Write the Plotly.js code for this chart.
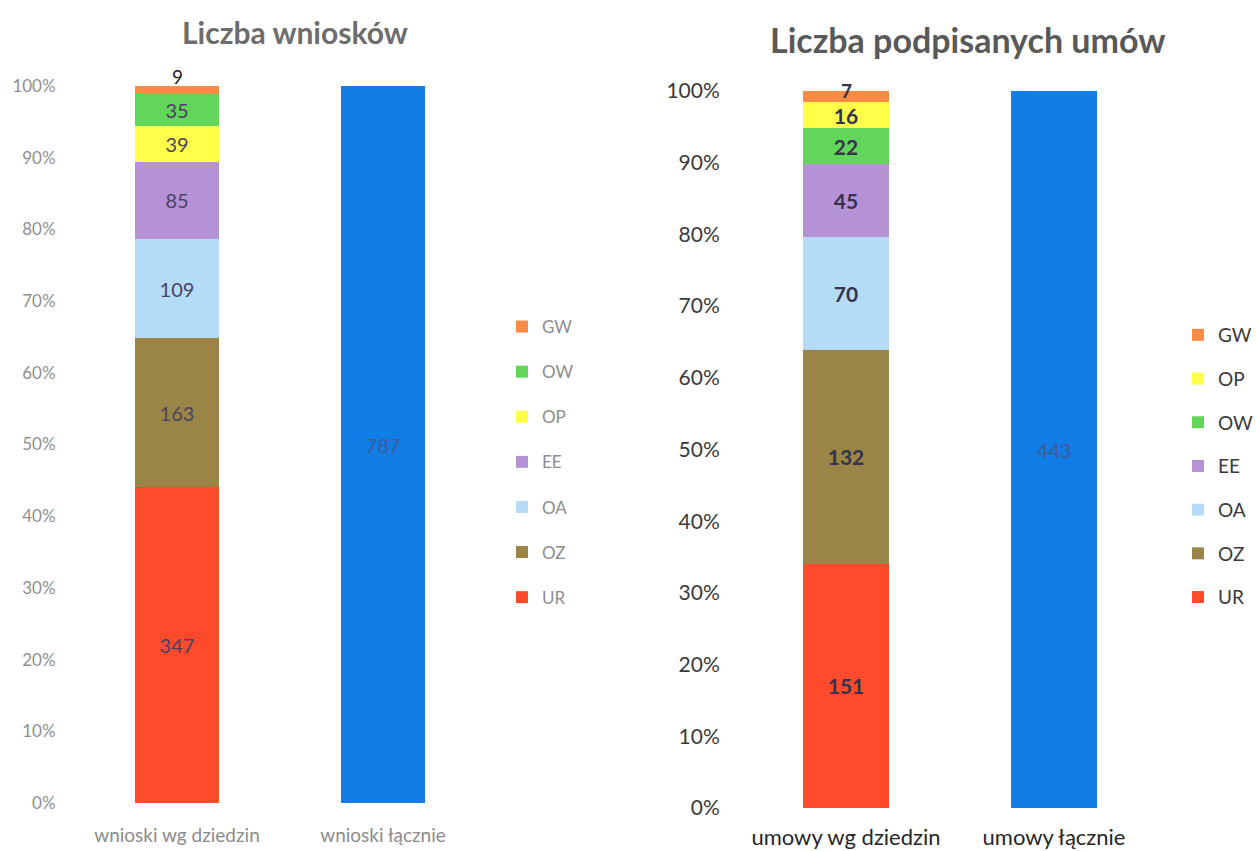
<!DOCTYPE html>
<html><head><meta charset="utf-8">
<script src="https://cdn.plot.ly/plotly-3.0.1.min.js"></script>
<style>html,body{margin:0;padding:0;background:#fff}#chart{width:1256px;height:851px}</style>
</head><body><div id="chart"></div>
<script>
// Left chart: Liczba wniosków
const leftCats = ["wnioski wg dziedzin", "wnioski łącznie"];
const leftSeries = ["UR", "OZ", "OA", "EE", "OP", "OW", "GW"];
const leftValues = [347, 163, 109, 85, 39, 35, 9];
const leftTotal = 787;

// Right chart: Liczba podpisanych umów
const rightCats = ["umowy wg dziedzin", "umowy łącznie"];
const rightSeries = ["UR", "OZ", "OA", "EE", "OW", "OP", "GW"];
const rightValues = [151, 132, 70, 45, 22, 16, 7];
const rightTotal = 443;

const colors = {UR:"#ff4b2b", OZ:"#9a8446", OA:"#b5dcf7", EE:"#b592d6", OP:"#ffff4a", OW:"#62d65a", GW:"#f98b45"};
const totalColor = "#127de6";
const font = "Lato, 'Open Sans', sans-serif";

const sum = a => a.reduce((p, c) => p + c, 0);
const traces = [];
const annotations = [];

function addStack(cats, series, values, total, axX, axY, legendId, prefix, labelFont, totalFont) {
  const n = series.length;
  series.forEach((s, i) => {
    const top = i === n - 1;
    traces.push({type:"bar", name:s, x:[cats[0]], y:[values[i]], text:[String(values[i])],
      textposition: top ? "none" : "inside", insidetextanchor:"middle", constraintext:"none", textangle:0,
      textfont:labelFont,
      marker:{color:colors[s]}, xaxis:axX, yaxis:axY, legend:legendId, legendgroup:prefix+s, legendrank:(n - i) * 10,
      hoverinfo:"name+text"});
  });
  traces.push({type:"bar", name:"łącznie", x:[cats[1]], y:[total], text:[String(total)],
    textposition:"inside", insidetextanchor:"middle", constraintext:"none", textangle:0,
    textfont:totalFont,
    marker:{color:totalColor}, xaxis:axX, yaxis:axY, showlegend:false});
}

addStack(leftCats, leftSeries, leftValues, leftTotal, "x", "y", "legend", "L",
  {family:font, size:20, color:"#4a4262"}, {family:font, size:20, color:"#3d5a99"});
addStack(rightCats, rightSeries, rightValues, rightTotal, "x2", "y2", "legend2", "R",
  {family:font, size:21, color:"#33334d", weight:"bold"}, {family:font, size:20, color:"#3d5a99"});

// labels of the thin top segments (GW), placed at the top of each stack
annotations.push({text:String(leftValues[leftValues.length-1]), xref:"x", yref:"y", x:leftCats[0],
  y:100 * sum(leftValues) / sum(leftValues), yanchor:"bottom", yshift:-4, showarrow:false,
  font:{family:font, size:19, color:"#222"}});
annotations.push({text:"<b>" + rightValues[rightValues.length-1] + "</b>", xref:"x2", yref:"y2", x:rightCats[0],
  y:100 * sum(rightValues) / sum(rightValues), yanchor:"middle", yshift:1, showarrow:false,
  font:{family:font, size:19, color:"#33334d"}});

const W = 1256, H = 851;
annotations.push({text:"<b>Liczba wniosków</b>", xref:"paper", yref:"paper", x:295/W, y:(H-32)/H, xanchor:"center", yanchor:"middle", showarrow:false,
  font:{size:30, color:"#6d6d6d"}});
annotations.push({text:"<b>Liczba podpisanych umów</b>", xref:"paper", yref:"paper", x:968/W, y:(H-40)/H, xanchor:"center", yanchor:"middle", showarrow:false,
  font:{size:34, color:"#595959"}});

const yaxisCommon = {range:[0,100], dtick:10, ticksuffix:"%", showgrid:false, zeroline:false, showline:false,
  ticks:"outside", tickcolor:"rgba(0,0,0,0)", fixedrange:true};
const layout = {
  width:W, height:H, margin:{l:0,r:0,t:0,b:0, autoexpand:false}, paper_bgcolor:"#fff", plot_bgcolor:"#fff",
  barmode:"stack", barnorm:"percent", bargap:0.59, showlegend:true,
  font:{family:font},
  xaxis:{domain:[74/W, 486/W], anchor:"y", showgrid:false, showline:false, zeroline:false, ticks:"outside", ticklen:15, tickcolor:"rgba(0,0,0,0)",
    tickfont:{size:19, color:"#8c8c8c"}},
  yaxis:Object.assign({}, yaxisCommon, {domain:[(H-803)/H, (H-86)/H], anchor:"x", ticklen:14, tickfont:{size:17, color:"#8f8f8f"}}),
  xaxis2:{domain:[742/W, 1158/W], anchor:"y2", showgrid:false, showline:false, zeroline:false, ticks:"outside", ticklen:10, tickcolor:"rgba(0,0,0,0)",
    tickfont:{size:22, color:"#262626"}},
  yaxis2:Object.assign({}, yaxisCommon, {domain:[(H-808)/H, (H-91)/H], anchor:"x2", ticklen:17, tickfont:{size:21, color:"#3a3a3a"}}),
  legend:{x:502/W, y:(H-309)/H, xanchor:"left", yanchor:"top", traceorder:"grouped", tracegroupgap:20,
    font:{size:17, color:"#8c8c8c"}, bgcolor:"rgba(0,0,0,0)"},
  legend2:{x:1178/W, y:(H-316)/H, xanchor:"left", yanchor:"top", traceorder:"grouped", tracegroupgap:16,
    font:{size:19, color:"#3a3a3a"}, bgcolor:"rgba(0,0,0,0)"},
  annotations:annotations
};
Plotly.newPlot("chart", traces, layout, {displayModeBar:false, staticPlot:true});
</script></body></html>
